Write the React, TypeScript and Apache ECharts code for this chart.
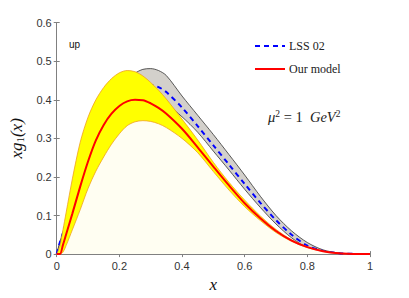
import React, { useEffect, useRef } from "react";
import * as echarts from "echarts";

const xs = [0, 0.01, 0.02, 0.03, 0.05, 0.075, 0.1, 0.125, 0.15, 0.175, 0.2, 0.225, 0.25, 0.275, 0.3, 0.325, 0.35, 0.4, 0.45, 0.5, 0.55, 0.6, 0.65, 0.7, 0.75, 0.8, 0.85, 0.9, 0.95, 1];
const ourModel = [0, 0, 0.024, 0.051, 0.105, 0.175, 0.24, 0.295, 0.335, 0.364, 0.384, 0.396, 0.4, 0.399, 0.391, 0.379, 0.364, 0.325, 0.277, 0.227, 0.178, 0.132, 0.093, 0.06, 0.035, 0.018, 0.0075, 0.002, 0.0003, 0];
const ourUpper = [0, 0.02, 0.063, 0.107, 0.195, 0.29, 0.355, 0.4, 0.432, 0.455, 0.47, 0.476, 0.473, 0.462, 0.445, 0.425, 0.402, 0.35, 0.296, 0.238, 0.186, 0.14, 0.099, 0.064, 0.037, 0.019, 0.008, 0.002, 0.0003, 0];
const ourLower = [0, 0, 0.005, 0.022, 0.063, 0.115, 0.17, 0.215, 0.252, 0.285, 0.312, 0.333, 0.343, 0.346, 0.344, 0.338, 0.328, 0.3, 0.263, 0.214, 0.166, 0.123, 0.087, 0.056, 0.033, 0.017, 0.007, 0.0018, 0.0003, 0];
const lss = [0, 0.03, 0.055, 0.08, 0.125, 0.18, 0.23, 0.275, 0.318, 0.353, 0.383, 0.407, 0.424, 0.435, 0.438, 0.433, 0.42, 0.38, 0.332, 0.282, 0.232, 0.182, 0.133, 0.088, 0.05, 0.022, 0.008, 0.0025, 0.0005, 0];
const lssUpper = [0, 0.031, 0.057, 0.084, 0.135, 0.198, 0.255, 0.307, 0.353, 0.392, 0.425, 0.451, 0.469, 0.479, 0.481, 0.476, 0.463, 0.41, 0.36, 0.31, 0.258, 0.205, 0.15, 0.1, 0.06, 0.03, 0.011, 0.003, 0.0006, 0];
const lssLower = [0, 0.027, 0.05, 0.073, 0.112, 0.16, 0.2, 0.245, 0.285, 0.32, 0.35, 0.372, 0.39, 0.4, 0.403, 0.4, 0.39, 0.356, 0.316, 0.267, 0.218, 0.168, 0.121, 0.078, 0.042, 0.017, 0.006, 0.002, 0.0004, 0];

const legendNames = ["LSS 02", "Our model"];

const pts = (ys: number[]) => xs.map((x, i) => [x, ys[i]]);

export default function App() {
  const ref = useRef<HTMLDivElement>(null);
  useEffect(() => {
    if (!ref.current) return;
    const chart = echarts.init(ref.current, null, { renderer: "svg" });
    const boxColor = "#808080";
    const labelColor = "#333333";
    const sans = "'Liberation Sans', Arial, sans-serif";
    const serif = "'Liberation Serif', 'Times New Roman', serif";
    const tick = { show: true, inside: true, length: 3, lineStyle: { color: boxColor } };
    const base = {
      symbol: "none",
      smooth: 0.3,
      type: "line" as const,
      xAxisIndex: 0,
      yAxisIndex: 0,
      emphasis: { disabled: true },
    };
    chart.setOption({
      animation: false,
      grid: { left: 52.5, right: 39, top: 22.7, bottom: 39.7 },
      xAxis: [
        {
          type: "value",
          min: 0,
          max: 1,
          interval: 0.2,
          position: "bottom",
          axisLine: { show: true, lineStyle: { color: "#6e4f2f", width: 1.2 } },
          axisTick: tick,
          splitLine: { show: false },
          axisLabel: { color: labelColor, fontFamily: sans, fontSize: 11, margin: 6 },
          name: "x",
          nameLocation: "middle",
          nameGap: 20,
          nameTextStyle: { fontFamily: serif, fontStyle: "italic", fontSize: 17, color: "#111" },
        },
        {
          type: "value",
          min: 0,
          max: 1,
          interval: 0.2,
          position: "top",
          axisLine: { show: true, lineStyle: { color: boxColor } },
          axisTick: tick,
          splitLine: { show: false },
          axisLabel: { show: false },
        },
      ],
      yAxis: [
        {
          type: "value",
          min: 0,
          max: 0.6,
          interval: 0.1,
          position: "left",
          axisLine: { show: true, lineStyle: { color: boxColor } },
          axisTick: tick,
          splitLine: { show: false },
          axisLabel: { color: labelColor, fontFamily: sans, fontSize: 11, margin: 5 },
          name: "{a|xg}{s|1}{a|(x)}",
          nameLocation: "middle",
          nameGap: 27,
          nameRotate: 90,
          nameTextStyle: {
            rich: {
              a: { fontFamily: serif, fontStyle: "italic", fontSize: 17, color: "#111", lineHeight: 18 },
              s: { fontFamily: serif, fontSize: 11, color: "#111", verticalAlign: "bottom", lineHeight: 10 },
            },
          },
        },
        {
          type: "value",
          min: 0,
          max: 0.6,
          interval: 0.1,
          position: "right",
          axisLine: { show: true, lineStyle: { color: boxColor } },
          axisTick: tick,
          splitLine: { show: false },
          axisLabel: { show: false },
        },
      ],
      graphic: [
        {
          type: "text",
          left: 69,
          top: 39,
          z: 20,
          style: { text: "up", font: `10px ${sans}`, fill: "#111" },
        },
        {
          type: "line",
          z: 20,
          shape: { x1: 255, y1: 46, x2: 285, y2: 46 },
          style: { stroke: "#0000ff", lineWidth: 2, lineDash: [5, 4] },
        },
        {
          type: "text",
          z: 20,
          x: 289,
          y: 46,
          style: { text: legendNames[0], font: `12px ${serif}`, fill: "#222", verticalAlign: "middle" },
        },
        {
          type: "line",
          z: 20,
          shape: { x1: 255, y1: 69, x2: 285, y2: 69 },
          style: { stroke: "#ff0000", lineWidth: 2 },
        },
        {
          type: "text",
          z: 20,
          x: 289,
          y: 69,
          style: { text: legendNames[1], font: `12px ${serif}`, fill: "#222", verticalAlign: "middle" },
        },
        {
          type: "text",
          left: 268,
          top: 109,
          z: 20,
          style: {
            text: "{i|μ}{s|2}{n| = 1  }{i|GeV}{s|2}",
            rich: {
              i: { fontFamily: serif, fontStyle: "italic", fontSize: 14.5, fill: "#222", lineHeight: 16 },
              n: { fontFamily: serif, fontSize: 14.5, fill: "#222", lineHeight: 16 },
              s: { fontFamily: serif, fontSize: 9.5, fill: "#222", verticalAlign: "top", lineHeight: 9 },
            },
          },
        },
      ],
      series: [
        {
          ...base,
          name: "LSS band upper",
          z: 2,
          data: pts(lssUpper),
          lineStyle: { color: "#333", width: 0.8 },
          areaStyle: { color: "#d3d0cb", opacity: 1 },
        },
        {
          ...base,
          name: "LSS band lower",
          z: 3,
          data: pts(lssLower),
          lineStyle: { color: "#333", width: 0.8 },
          areaStyle: { color: "#ffffff", opacity: 1 },
        },
        {
          ...base,
          name: "LSS 02",
          z: 4,
          data: pts(lss),
          itemStyle: { color: "#0000ff" },
          lineStyle: { color: "#0000ff", width: 2, type: [5, 4] },
        },
        {
          ...base,
          name: "Our band upper",
          z: 5,
          data: pts(ourUpper),
          lineStyle: { color: "#f0a020", width: 0.8 },
          areaStyle: { color: "#ffff00", opacity: 1 },
        },
        {
          ...base,
          name: "Our band lower",
          z: 6,
          data: pts(ourLower),
          lineStyle: { color: "#f0a020", width: 0.8 },
          areaStyle: { color: "#fffef2", opacity: 1 },
        },
        {
          ...base,
          name: "Our model",
          z: 7,
          data: pts(ourModel),
          itemStyle: { color: "#ff0000" },
          lineStyle: { color: "#ff0000", width: 2 },
        },
      ],
    });
    return () => chart.dispose();
  }, []);
  return (
    <div
      ref={ref}
      style={{ position: "absolute", left: 0, top: 0, width: 409, height: 298, background: "#fff" }}
    />
  );
}
